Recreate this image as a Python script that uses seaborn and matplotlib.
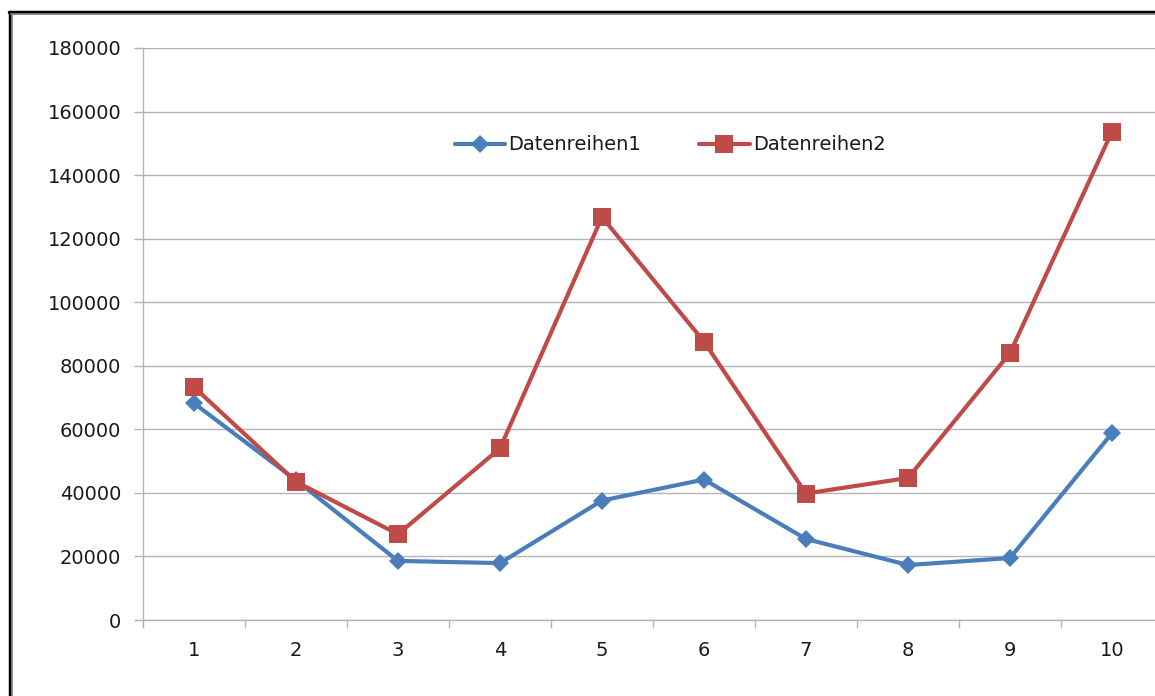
import matplotlib
matplotlib.use("Agg")
import matplotlib.pyplot as plt
import seaborn as sns
import pandas as pd
from matplotlib.lines import Line2D

categories = [1, 2, 3, 4, 5, 6, 7, 8, 9, 10]
series1 = [68200, 44000, 18600, 17900, 37600, 44200, 25500, 17300, 19500, 58800]
series2 = [73300, 43500, 27000, 54000, 126800, 87600, 39800, 44700, 84000, 153700]
yticks = [0, 20000, 40000, 60000, 80000, 100000, 120000, 140000, 160000, 180000]
names = ["Datenreihen1", "Datenreihen2"]

sns.set_theme(style="white")
plt.rcParams["font.family"] = ["DejaVu Sans"]

fig = plt.figure(figsize=(11.55, 6.96), dpi=100)
ax = fig.add_axes([143/1155, 1-620/696, 1020/1155, 572/696])

blue = "#4A7EBB"
red = "#BE4B48"
df1 = pd.DataFrame({"x": categories, "y": series1})
df2 = pd.DataFrame({"x": categories, "y": series2})
sns.lineplot(data=df1, x="x", y="y", ax=ax, color=blue, linewidth=3.0,
             marker="D", markersize=9, markeredgewidth=0, label=names[0])
sns.lineplot(data=df2, x="x", y="y", ax=ax, color=red, linewidth=3.0,
             marker="s", markersize=13.5, markeredgewidth=0, label=names[1])

ax.set_xlim(0.5, 10.5)
ax.set_ylim(0, 180000)
ax.set_yticks(yticks)
ax.set_yticklabels([str(v) for v in yticks])
ax.set_xticks(categories)
ax.set_xticklabels([str(c) for c in categories])
ax.set_xticks([c - 0.5 for c in categories] + [10.5], minor=True)
ax.set_xlabel("")
ax.set_ylabel("")

grid_c = "#b4b4b4"
ax.yaxis.grid(True, color=grid_c, linewidth=1.0)
ax.xaxis.grid(False)
ax.set_axisbelow(True)
for s in ["top", "right"]:
    ax.spines[s].set_visible(False)
for s in ["left", "bottom"]:
    ax.spines[s].set_color(grid_c)
    ax.spines[s].set_linewidth(1.0)

ax.tick_params(axis="y", which="major", direction="out", length=6.5, width=1.0,
               color=grid_c, labelsize=14, labelcolor="#1a1a1a", pad=9, left=True)
ax.tick_params(axis="x", which="major", length=0, labelsize=14,
               labelcolor="#1a1a1a", pad=15, bottom=True)
ax.tick_params(axis="x", which="minor", direction="out", length=6, width=1.0,
               color=grid_c, bottom=True)

leg = ax.legend(loc="center", bbox_to_anchor=(670/1155, 1-145/696),
                bbox_transform=fig.transFigure, ncol=2, frameon=False,
                fontsize=14, handlelength=2.6, handletextpad=0.15,
                columnspacing=3.0)
for t in leg.get_texts():
    t.set_color("#1a1a1a")

# outer chart border (top and left edges visible)
fig.add_artist(Line2D([9/1155, 1.0], [1-11.5/696, 1-11.5/696], transform=fig.transFigure,
                      color="black", linewidth=2.5))
fig.add_artist(Line2D([9.5/1155, 9.5/1155], [0, 1-11.5/696], transform=fig.transFigure,
                      color="black", linewidth=2.5))
fig.add_artist(Line2D([11/1155, 1.0], [1-14/696, 1-14/696], transform=fig.transFigure,
                      color="#888888", linewidth=1.2))
fig.add_artist(Line2D([12/1155, 12/1155], [0, 1-14/696], transform=fig.transFigure,
                      color="#888888", linewidth=1.2))

fig.savefig("out.png", dpi=100)
